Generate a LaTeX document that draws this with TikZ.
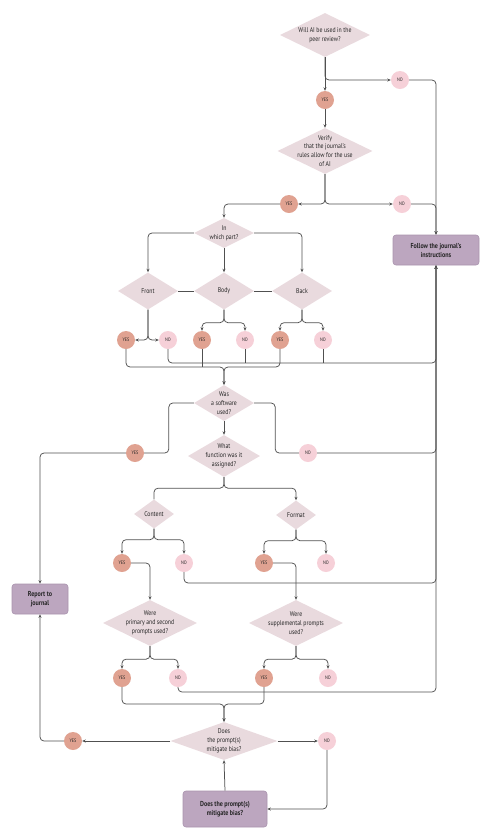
\documentclass[tikz,border=0pt]{standalone}
\usepackage{fontspec}
\setmainfont{PT Sans}[FakeStretch=0.84]
\usepackage{tikz}
\usetikzlibrary{arrows.meta, positioning, shapes.geometric, calc}
\usepackage{xcolor}
\definecolor{rose}{HTML}{E9DADE}
\definecolor{salmon}{HTML}{E0A291}
\definecolor{blush}{HTML}{F6D0D8}
\definecolor{mauve}{HTML}{BCA6BF}
\definecolor{mauvedark}{HTML}{A993AD}
\definecolor{ink}{HTML}{262626}
\definecolor{wire}{HTML}{505050}
\tikzset{
  dia/.style 2 args={diamond, fill=rose, inner sep=0pt, minimum width=#1, minimum height=#2},
  txt/.style={align=center, text=ink, inner sep=0pt, font=\fontsize{6.9}{8.9}\selectfont},
  yesdot/.style={circle, fill=salmon, inner sep=0pt, minimum size=18pt, text=ink, font=\fontsize{5}{5}\selectfont},
  nodot/.style={yesdot, fill=blush},
  task/.style={rectangle, rounded corners=3pt, fill=mauve, draw=mauvedark, line width=0.6pt, align=center, text=ink, font=\bfseries\fontsize{7.2}{9}\selectfont},
  wire/.style={draw=wire, line width=0.75pt, rounded corners=4pt},
  arr/.style={wire, -{Stealth[length=3.5pt, width=3pt]}}
}

\begin{document}
\begin{tikzpicture}[x=1pt, y=-1pt]
      \useasboundingbox (0,0) rectangle (491,831);
      \node[dia={90}{44}, label={[txt]center:Will AI be used in the\\peer review?}] (q1) at (325,35) {};
      \node[dia={95}{46}, label={[txt]center:Verify\\that the journal's\\rules allow for the use\\of AI}] (q2) at (325,151) {};
      \node[dia={60}{30}, label={[txt]center:In\\which part?}] (part) at (224,233) {};
      \node[dia={60}{37}, label={[txt]center:Front}] (front) at (148,291) {};
      \node[dia={60}{37}, label={[txt]center:Body}] (body) at (224,291) {};
      \node[dia={60}{37}, label={[txt]center:Back}] (back) at (302,291) {};
      \node[dia={60}{36}, label={[txt]center:Was\\a software\\used?}] (soft) at (224,403) {};
      \node[dia={72}{42}, label={[txt]center:What\\function was it\\assigned?}] (func) at (224,456) {};
      \node[dia={40}{29}, label={[txt]center:Content}] (cont) at (154,514) {};
      \node[dia={40}{29}, label={[txt]center:Format}] (form) at (296,515) {};
      \node[dia={94}{46}, label={[txt]center:Were\\primary and second\\prompts used?}] (prim) at (150,623) {};
      \node[dia={94}{46}, label={[txt]center:Were\\supplemental prompts\\used?}] (supp) at (296,623) {};
      \node[dia={107}{38}, label={[txt]center:Does\\the prompt(s)\\mitigate bias?}] (bias) at (224,741) {};

      \node[task, minimum width=86pt, minimum height=30pt] (follow) at (436,250) {Follow the journal's\\instructions};
      \node[task, minimum width=56pt, minimum height=30pt] (report) at (40,599) {Report to\\journal};
      \node[task, minimum width=84pt, minimum height=36pt] (final) at (225,809) {Does the prompt(s)\\mitigate bias?};

      \node[yesdot] (y1) at (325,100) {YES};
      \node[nodot] (n1) at (400,80) {NO};
      \node[yesdot] (y2) at (289,204) {YES};
      \node[nodot] (n2) at (402,204) {NO};
      \node[yesdot] (yf) at (126,340) {YES};
      \node[nodot] (nf) at (168,340) {NO};
      \node[yesdot] (yb) at (202,340) {YES};
      \node[nodot] (nb) at (245,340) {NO};
      \node[yesdot] (yk) at (280,340) {YES};
      \node[nodot] (nk) at (323,340) {NO};
      \node[yesdot] (ys) at (135,453) {YES};
      \node[nodot] (ns) at (308,453) {NO};
      \node[yesdot] (yc) at (122,563) {YES};
      \node[nodot] (nc) at (184,563) {NO};
      \node[yesdot] (yo) at (264,563) {YES};
      \node[nodot] (no) at (326,563) {NO};
      \node[yesdot] (yp) at (122,678) {YES};
      \node[nodot] (np) at (178,678) {NO};
      \node[yesdot] (yu) at (264,678) {YES};
      \node[nodot] (nu) at (328,678) {NO};
      \node[yesdot] (ym) at (73,741) {YES};
      \node[nodot] (nm) at (327,741) {NO};

      \coordinate (m1) at (224,367);
      \coordinate (m3) at (224,704);
      \coordinate (r1) at (436,363);
      \coordinate (r2) at (436,583);
      \coordinate (r3) at (436,692);

      \draw[arr] (q1.south) -- (y1.north);
      \draw[arr] (q1.south) |- (n1.west);
      \draw[arr] (n1.east) -| (follow.north);
      \draw[arr] (y1.south) -- (q2.north);
      \draw[arr] (q2.south) |- (y2.east);
      \draw[arr] (q2.south) |- (n2.west);
      \draw[arr] (n2.east) -| (follow.north);
      \draw[arr] (y2.west) -| (part.north);

      \draw[arr] (part.west) -| (front.north);
      \draw[arr] (part.south) -- (body.north);
      \draw[arr] (part.east) -| (back.north);
      \draw[wire] (front.east) -- (body.west);
      \draw[wire] (body.east) -- (back.west);
      \draw[arr] (front.south) |- (yf.east);
      \draw[arr] (front.south) |- (nf.west);
      \foreach \d/\y/\n in {body/yb/nb, back/yk/nk}{
        \draw[arr] (\d.south) -- ++(0,13) -| (\y.north);
        \draw[arr] (\d.south) -- ++(0,13) -| (\n.north);
      }

      \draw[arr] (yf.south) |- (m1) -- (soft.north);
      \draw[arr] (yk.south) |- (m1) -- (soft.north);
      \draw[wire] (yb.south) -- (yb.south |- m1);
      \draw[arr] (nf.south) |- (r1) -- (follow.south);
      \draw[wire] (nb.south) -- (nb.south |- r1);
      \draw[wire] (nk.south) -- (nk.south |- r1);

      \draw[wire] (soft.west) -- ++(-25,0) |- (ys.east);
      \draw[arr] (ys.west) -| (report.north);
      \draw[wire] (soft.east) -- ++(21,0) |- (ns.west);
      \draw[arr] (ns.east) -| (follow.south);
      \draw[arr] (soft.south) -- (func.north);

      \draw[wire] (func.south) -- ++(0,11) -| (cont.north);
      \draw[arr] (func.south) -- ++(0,11) -| (form.north);
      \foreach \d/\y/\n in {cont/yc/nc, form/yo/no}{
        \draw[arr] (\d.south) -- ++(0,11) -| (\y.north);
        \draw[arr] (\d.south) -- ++(0,11) -| (\n.north);
      }
      \draw[arr] (yc.east) -| (prim.north);
      \draw[arr] (yo.east) -| (supp.north);
      \draw[arr] (nc.south) |- (r2) -- (follow.south);

      \foreach \d/\y/\n in {prim/yp/np, supp/yu/nu}{
        \draw[arr] (\d.south) -- ++(0,13) -| (\y.north);
        \draw[arr] (\d.south) -- ++(0,13) -| (\n.north);
      }
      \draw[arr] (yp.south) |- (m3) -- (bias.north);
      \draw[arr] (yu.south) |- (m3) -- (bias.north);
      \draw[arr] (np.south) |- (r3) -- (follow.south);

      \draw[arr] (bias.west) -- (ym.east);
      \draw[arr] (ym.west) -| (report.south);
      \draw[arr] (bias.east) -- (nm.west);
      \draw[arr] (nm.south) |- (final.east);
      \draw[arr] (final.north) -- (bias.south);
    \end{tikzpicture}
\end{document}
